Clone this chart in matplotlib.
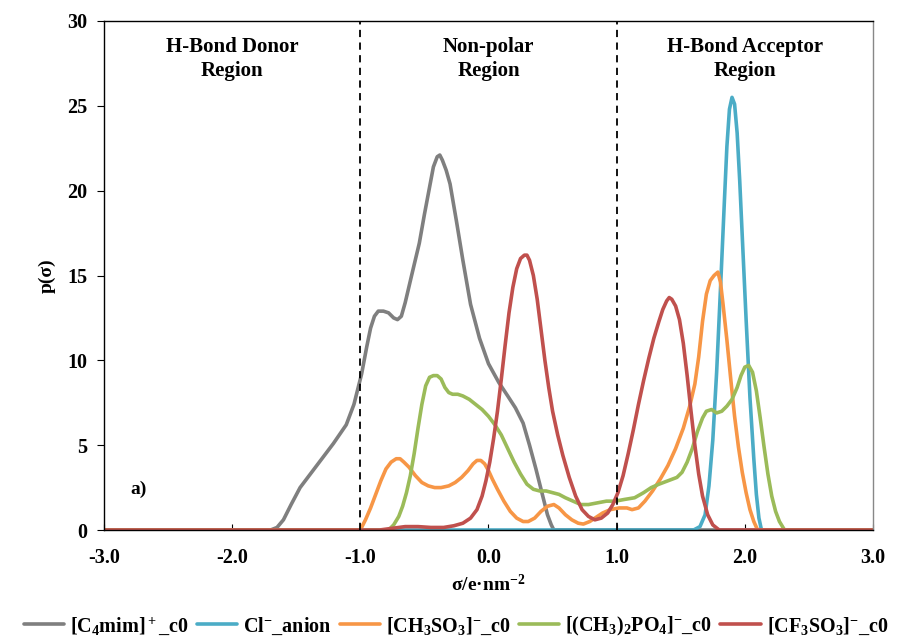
import matplotlib
matplotlib.use("Agg")
import matplotlib.pyplot as plt

plt.rcParams['font.family'] = ['Liberation Serif', 'DejaVu Serif']
plt.rcParams['font.weight'] = 'bold'
plt.rcParams['axes.labelweight'] = 'bold'
plt.rcParams['mathtext.fontset'] = 'custom'
plt.rcParams['mathtext.rm'] = 'Liberation Serif:bold'
plt.rcParams['mathtext.it'] = 'Liberation Serif:bold'
plt.rcParams['mathtext.bf'] = 'Liberation Serif:bold'
plt.rcParams['mathtext.default'] = 'rm'

# sigma-profiles
c4mim_x = [-3.0, -1.70, -1.65, -1.60, -1.54, -1.47, -1.39, -1.31, -1.21, -1.11, -1.05, -0.99, -0.95,
           -0.92, -0.89, -0.86, -0.82, -0.78, -0.74, -0.71, -0.68, -0.65, -0.60, -0.54, -0.50, -0.46,
           -0.43, -0.40, -0.38, -0.36, -0.33, -0.30, -0.25, -0.20, -0.14, -0.07, 0.00, 0.08, 0.15,
           0.21, 0.27, 0.32, 0.37, 0.42, 0.46, 0.49, 0.51, 3.0]
c4mim_y = [0, 0, 0.15, 0.6, 1.5, 2.5, 3.3, 4.1, 5.1, 6.2, 7.4, 9.2, 10.8,
           11.9, 12.6, 12.9, 12.9, 12.8, 12.5, 12.4, 12.6, 13.4, 15.0, 16.9, 18.6, 20.2,
           21.4, 22.0, 22.1, 21.8, 21.2, 20.4, 18.2, 15.9, 13.3, 11.3, 9.8, 8.7, 7.9,
           7.2, 6.3, 5.0, 3.6, 2.1, 0.9, 0.3, 0, 0]

cl_x = [-3.0, 1.60, 1.65, 1.69, 1.72, 1.75, 1.78, 1.81, 1.84, 1.86, 1.88, 1.90, 1.92, 1.94,
        1.96, 1.98, 2.01, 2.04, 2.07, 2.09, 2.11, 2.13, 3.0]
cl_y = [0, 0, 0.2, 0.9, 2.6, 5.3, 9.3, 14.2, 19.3, 22.6, 24.8, 25.5, 25.1, 23.4,
        20.6, 17.3, 12.4, 7.8, 4.2, 2.1, 0.7, 0, 0]

ch3so3_x = [-3.0, -1.00, -0.96, -0.92, -0.88, -0.84, -0.80, -0.76, -0.72, -0.69, -0.66, -0.62,
            -0.57, -0.52, -0.47, -0.42, -0.37, -0.31, -0.26, -0.21, -0.16, -0.12, -0.09, -0.06,
            -0.03, 0.00, 0.03, 0.07, 0.12, 0.17, 0.22, 0.27, 0.31, 0.36, 0.41, 0.46, 0.51, 0.55,
            0.60, 0.65, 0.70, 0.74, 0.79, 0.84, 0.89, 0.95, 1.02, 1.08, 1.12, 1.17, 1.22, 1.28,
            1.34, 1.40, 1.46, 1.52, 1.57, 1.61, 1.64, 1.67, 1.70, 1.73, 1.76, 1.79, 1.81, 1.83,
            1.86, 1.89, 1.92, 1.95, 1.98, 2.01, 2.04, 2.07, 2.10, 3.0]
ch3so3_y = [0, 0, 0.6, 1.3, 2.1, 2.9, 3.6, 4.0, 4.2, 4.2, 4.0, 3.7,
            3.2, 2.8, 2.6, 2.5, 2.5, 2.6, 2.8, 3.1, 3.5, 3.9, 4.1, 4.1,
            3.9, 3.5, 3.0, 2.4, 1.7, 1.1, 0.7, 0.5, 0.5, 0.7, 1.1, 1.4, 1.5, 1.3,
            0.9, 0.6, 0.4, 0.35, 0.5, 0.75, 1.0, 1.2, 1.3, 1.3, 1.2, 1.3, 1.7, 2.3,
            3.0, 3.8, 4.8, 6.0, 7.3, 8.6, 10.2, 12.3, 13.9, 14.7, 15.0, 15.2, 14.6, 13.3,
            11.2, 8.9, 6.7, 4.9, 3.4, 2.2, 1.2, 0.5, 0, 0]

dmp_x = [-3.0, -0.78, -0.74, -0.70, -0.67, -0.64, -0.61, -0.58, -0.55, -0.52, -0.49, -0.46,
         -0.43, -0.40, -0.37, -0.34, -0.31, -0.28, -0.24, -0.20, -0.15, -0.10, -0.05, 0.00,
         0.05, 0.10, 0.15, 0.20, 0.25, 0.30, 0.35, 0.40, 0.45, 0.50, 0.55, 0.60, 0.66, 0.72,
         0.78, 0.85, 0.92, 0.99, 1.06, 1.14, 1.21, 1.27, 1.33, 1.40, 1.47, 1.51, 1.55, 1.59,
         1.63, 1.67, 1.70, 1.74, 1.78, 1.82, 1.86, 1.90, 1.94, 1.97, 2.00, 2.03, 2.06, 2.09,
         2.12, 2.15, 2.18, 2.21, 2.24, 2.27, 2.31, 3.0]
dmp_y = [0, 0, 0.3, 0.8, 1.4, 2.2, 3.2, 4.5, 6.0, 7.4, 8.5, 9.0,
         9.1, 9.1, 8.9, 8.4, 8.1, 8.0, 8.0, 7.9, 7.7, 7.4, 7.1, 6.7,
         6.2, 5.6, 4.8, 4.0, 3.3, 2.7, 2.4, 2.3, 2.3, 2.2, 2.1, 1.9, 1.7, 1.5,
         1.5, 1.6, 1.7, 1.7, 1.8, 1.9, 2.2, 2.5, 2.7, 2.9, 3.1, 3.4, 4.0, 4.8,
         5.8, 6.6, 7.0, 7.1, 6.9, 7.0, 7.3, 7.7, 8.4, 9.1, 9.6, 9.7, 9.3, 8.2,
         6.6, 4.9, 3.3, 2.0, 1.1, 0.5, 0, 0]

cf3so3_x = [-3.0, -0.85, -0.75, -0.65, -0.55, -0.45, -0.35, -0.27, -0.20, -0.14, -0.09, -0.05,
            -0.02, 0.01, 0.04, 0.07, 0.10, 0.13, 0.16, 0.19, 0.22, 0.25, 0.28, 0.30, 0.32, 0.35,
            0.38, 0.41, 0.44, 0.47, 0.50, 0.54, 0.58, 0.63, 0.68, 0.73, 0.78, 0.83, 0.88, 0.93,
            0.97, 1.01, 1.05, 1.09, 1.13, 1.17, 1.21, 1.25, 1.29, 1.33, 1.36, 1.39, 1.41, 1.43,
            1.46, 1.49, 1.52, 1.55, 1.58, 1.61, 1.64, 1.67, 1.71, 1.75, 1.80, 3.0]
cf3so3_y = [0, 0, 0.1, 0.2, 0.2, 0.15, 0.15, 0.25, 0.4, 0.7, 1.2, 2.0,
            2.9, 4.0, 5.4, 7.0, 8.9, 10.9, 12.8, 14.3, 15.4, 16.0, 16.2, 16.2, 15.9, 15.0,
            13.6, 11.8, 10.0, 8.4, 7.0, 5.6, 4.4, 3.1, 2.0, 1.2, 0.8, 0.6, 0.7, 1.0,
            1.5, 2.2, 3.2, 4.5, 5.9, 7.4, 8.8, 10.1, 11.3, 12.3, 13.0, 13.5, 13.7, 13.6,
            13.2, 12.4, 11.0, 9.1, 7.0, 5.0, 3.3, 2.0, 0.9, 0.3, 0, 0]

labels = ['[C$_4$mim]$^+$_c0', 'Cl$^{-}$_anion', '[CH$_3$SO$_3$]$^{-}$_c0',
          '[(CH$_3$)$_2$PO$_4$]$^{-}$_c0', '[CF$_3$SO$_3$]$^{-}$_c0']
colors = ['#7F7F7F', '#4BACC6', '#F79646', '#9BBB59', '#C0504D']
xs = [c4mim_x, cl_x, ch3so3_x, dmp_x, cf3so3_x]
ys = [c4mim_y, cl_y, ch3so3_y, dmp_y, cf3so3_y]

fig = plt.figure(figsize=(9.12, 6.42), dpi=100)
ax = fig.add_axes([104/912, 1 - 530/642, (873 - 104)/912, (530 - 21)/642])

for x, y, c, lab in zip(xs, ys, colors, labels):
    ax.plot(x, y, color=c, lw=2.6, label=lab, solid_joinstyle='round', solid_capstyle='round')

# region boundaries
for xv in [-1, 1]:
    ax.axvline(xv, color='black', lw=1.3, ls=(0, (4, 3)))

region_kw = dict(ha='center', va='center', fontsize=15, linespacing=1.3)
ax.text(-2.0, 27.75, 'H-Bond Donor\nRegion', **region_kw)
ax.text(0.0, 27.75, 'Non-polar\nRegion', **region_kw)
ax.text(2.0, 27.75, 'H-Bond Acceptor\nRegion', **region_kw)
ax.text(-2.73, 2.4, 'a)', ha='center', va='center', fontsize=14)

ax.set_xlim(-3, 3)
ax.set_ylim(0, 30)
ax.set_xticks([-3, -2, -1, 0, 1, 2, 3])
ax.set_xticklabels(['-3.0', '-2.0', '-1.0', '0.0', '1.0', '2.0', '3.0'])
ax.set_yticks(range(0, 31, 5))
ax.tick_params(axis='x', direction='in', length=4, labelsize=14.5, pad=13)
ax.tick_params(axis='y', direction='out', length=5, labelsize=14.5, pad=7)
ax.spines['right'].set_color('#888888')
for s in ax.spines.values():
    s.set_linewidth(1.0)

ax.set_xlabel('σ/e·nm$^{-2}$', fontsize=14, labelpad=4)
ax.set_ylabel('p(σ)', fontsize=14, labelpad=8)

fig.legend(loc='lower center', bbox_to_anchor=(0.5, -0.022), ncol=5, frameon=False,
           fontsize=14.5, handlelength=2.0, handletextpad=0.3, columnspacing=0.4)

fig.savefig('out.png', dpi=100)
